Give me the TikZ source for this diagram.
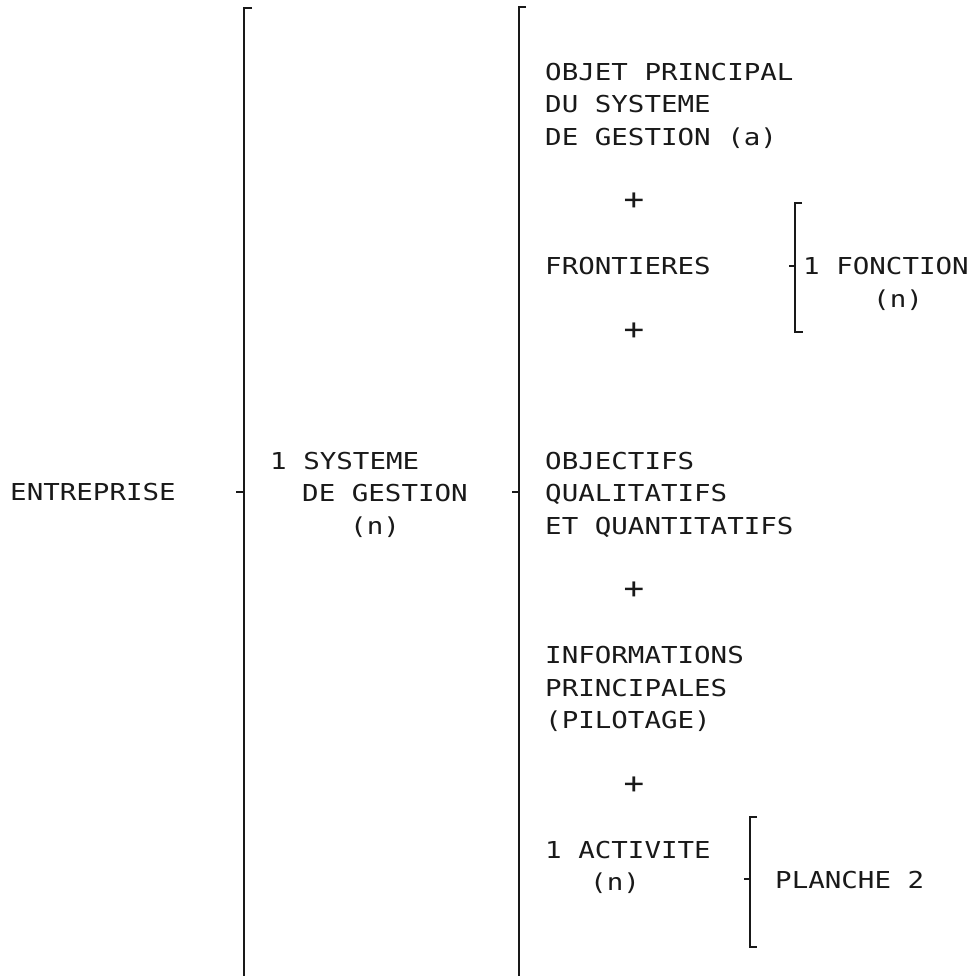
\documentclass[tikz,border=0pt]{standalone}
\usepackage{fontspec}
\newfontfamily\typo{DejaVu Sans Mono}[FakeStretch=1.18]
\begin{document}
\begin{tikzpicture}[x=1pt,y=-1pt,
  txt/.style={font=\typo\fontsize{23.3}{28}\selectfont, anchor=base west, inner sep=0pt, text=black!90},
  plus/.style={font=\typo\fontsize{29}{30}\selectfont, anchor=center, inner sep=0pt, text=black!90},
  brk/.style={line width=2.4pt, draw=black!90},
  tick/.style={line width=1.6pt, draw=black!90}]
\useasboundingbox (0,0) rectangle (969,976);
% left
\node[txt] (ent) at (10,500.5) {ENTREPRISE};
\node[txt] (sysA) at (270,469.3) {1 SYSTEME};
\node[txt] (sysB) at (302,501.7) {DE GESTION};
\node[txt] (sysC) at (350,534.1) {(n)};
% right column
\node[txt] (objA) at (545,80.5) {OBJET PRINCIPAL};
\node[txt] (objB) at (545,112.9) {DU SYSTEME};
\node[txt] (objC) at (545,145.3) {DE GESTION (a)};
\node[plus] (p1) at (634,201.6) {+};
\node[txt] (fro) at (545,274.9) {FRONTIERES};
\node[plus] (p2) at (634,331.2) {+};
\node[txt] (obsA) at (545,469.3) {OBJECTIFS};
\node[txt] (obsB) at (545,501.7) {QUALITATIFS};
\node[txt] (obsC) at (545,534.1) {ET QUANTITATIFS};
\node[plus] (p3) at (634,590.4) {+};
\node[txt] (infA) at (545,663.7) {INFORMATIONS};
\node[txt] (infB) at (545,696.1) {PRINCIPALES};
\node[txt] (infC) at (545,728.5) {(PILOTAGE)};
\node[plus] (p4) at (634,784.8) {+};
\node[txt] (actA) at (545,858.1) {1 ACTIVITE};
\node[txt] (actB) at (590,890.5) {(n)};
\node[txt] (pla) at (775,888.5) {PLANCHE 2};
\node[txt] (fonA) at (803,274.9) {1 FONCTION};
\node[txt] (fonB) at (873,307.3) {(n)};
% brackets
\coordinate (b1t) at (244,8);
\coordinate (b1b) at (244,976);
\draw[brk] (252,8) -- (b1t) -- (b1b);
\draw[tick] (236,492) -- (244,492);
\coordinate (b2t) at (519,7);
\coordinate (b2b) at (519,976);
\draw[brk] (526,7) -- (b2t) -- (b2b);
\draw[tick] (512,492) -- (519,492);
\draw[brk] (802,203) -- (795,203) -- (795,332) -- (803,332);
\draw[tick] (789,266) -- (795,266);
\draw[brk] (757,817) -- (750,817) -- (750,947) -- (757,947);
\draw[tick] (744,879) -- (750,879);
\end{tikzpicture}
\end{document}
